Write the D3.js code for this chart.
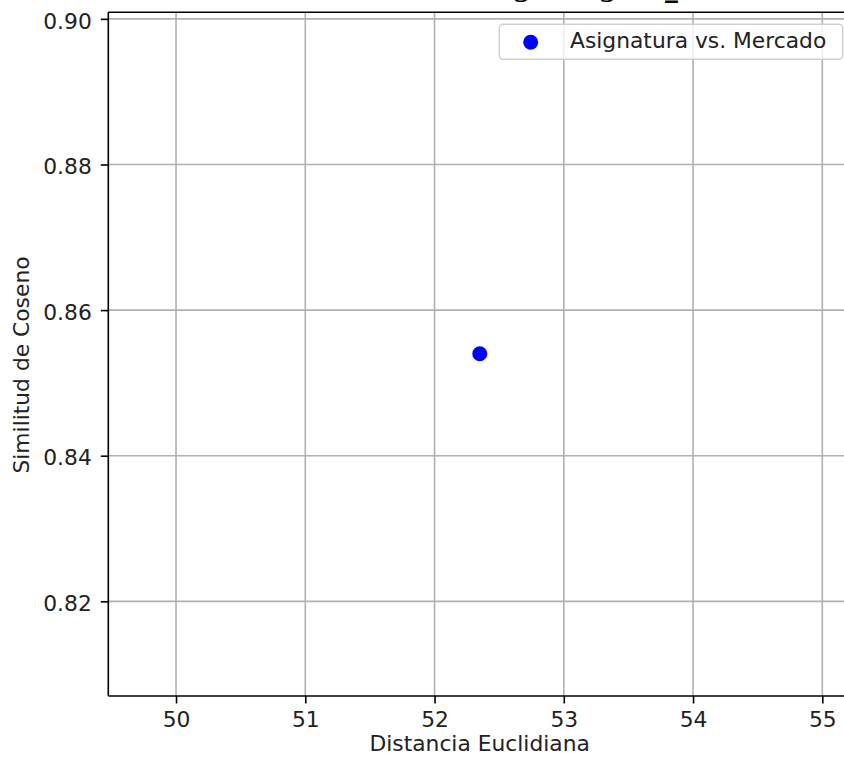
<!DOCTYPE html>
<html>
<head>
<meta charset="utf-8">
<script src="https://cdn.jsdelivr.net/npm/d3@7"></script>
<style>
  html, body { margin: 0; padding: 0; background: #fff; overflow: hidden; }
  svg { display: block; }
</style>
</head>
<body>
<svg id="chart" width="844" height="757"></svg>
<script>
// ---- data ----
const seriesName = "Asignatura vs. Mercado";
const distancia = [52.35];
const similitud = [0.854];
const xTicks = [50, 51, 52, 53, 54, 55];
const yTicks = [0.82, 0.84, 0.86, 0.88, 0.90];
const xDomain = [49.476, 55.222];
const yDomain = [0.8070, 0.9009];
const titleText = "Similitud: Tecnología Digital_Mercado";
const xLabel = "Distancia Euclidiana";
const yLabel = "Similitud de Coseno";

// ---- layout ----
const W = 844, H = 757;
const plot = { left: 108.3, right: 851, top: 12.3, bottom: 696 };
const font = "DejaVu Sans, sans-serif";
const fs = 21.8;

const svg = d3.select("#chart");
const x = d3.scaleLinear().domain(xDomain).range([plot.left, plot.right]);
const y = d3.scaleLinear().domain(yDomain).range([plot.bottom, plot.top]);

svg.append("rect").attr("width", W).attr("height", H).attr("fill", "#fff");

svg.append("clipPath").attr("id", "clip").append("rect")
  .attr("x", plot.left).attr("y", plot.top)
  .attr("width", plot.right - plot.left).attr("height", plot.bottom - plot.top);

// grid
const grid = svg.append("g").attr("clip-path", "url(#clip)");
grid.selectAll("line.gx").data(xTicks).join("line")
  .attr("x1", d => x(d)).attr("x2", d => x(d))
  .attr("y1", plot.top).attr("y2", plot.bottom)
  .attr("stroke", "#b0b0b0").attr("stroke-width", 1.6);
grid.selectAll("line.gy").data(yTicks).join("line")
  .attr("x1", plot.left).attr("x2", plot.right)
  .attr("y1", d => y(d)).attr("y2", d => y(d))
  .attr("stroke", "#b0b0b0").attr("stroke-width", 1.6);

// points
svg.append("g").attr("clip-path", "url(#clip)")
  .selectAll("circle").data(distancia).join("circle")
  .attr("cx", d => x(d)).attr("cy", (d, i) => y(similitud[i]))
  .attr("r", 7.5).attr("fill", "#0000ff");

// axes
const xAxis = svg.append("g").attr("transform", `translate(0,${plot.bottom})`)
  .call(d3.axisBottom(x).tickValues(xTicks).tickFormat(d3.format("d"))
        .tickSizeInner(7.5).tickSizeOuter(0).tickPadding(6));
const yAxis = svg.append("g").attr("transform", `translate(${plot.left},0)`)
  .call(d3.axisLeft(y).tickValues(yTicks).tickFormat(d3.format(".2f"))
        .tickSizeInner(7.5).tickSizeOuter(0).tickPadding(9));
[xAxis, yAxis].forEach(a => {
  a.select(".domain").remove();
  a.selectAll(".tick line").attr("stroke", "#000").attr("stroke-width", 1.6);
  a.selectAll(".tick text").attr("font-family", font).attr("font-size", fs)
    .attr("fill", "#222");
});
xAxis.selectAll(".tick text").attr("dy", "0.78em");
yAxis.selectAll(".tick text").attr("dy", "0.42em");

// spines
const sp = svg.append("g").attr("stroke", "#000").attr("stroke-width", 1.6);
sp.append("line").attr("x1", plot.left).attr("x2", plot.left).attr("y1", plot.top).attr("y2", plot.bottom);
sp.append("line").attr("x1", plot.left).attr("x2", plot.right).attr("y1", plot.bottom).attr("y2", plot.bottom);
sp.append("line").attr("x1", plot.left).attr("x2", plot.right).attr("y1", plot.top).attr("y2", plot.top);
sp.append("line").attr("x1", plot.right).attr("x2", plot.right).attr("y1", plot.top).attr("y2", plot.bottom);

// axis labels
svg.append("text").attr("x", (plot.left + plot.right) / 2).attr("y", 751)
  .attr("text-anchor", "middle").attr("font-family", font).attr("font-size", fs)
  .attr("fill", "#222").text(xLabel);
svg.append("text").attr("transform", "translate(29,365) rotate(-90)")
  .attr("text-anchor", "middle").attr("font-family", font).attr("font-size", fs)
  .attr("fill", "#222").text(yLabel);

// title (mostly above the visible area, as in the reference)
const title = svg.append("text").attr("x", (plot.left + plot.right) / 2).attr("y", -2.6)
  .attr("text-anchor", "start").attr("font-family", "DejaVu Serif, serif")
  .attr("font-weight", "bold").attr("font-size", 25.8).attr("fill", "#000")
  .text(titleText);
{
  const gi = titleText.indexOf("g");
  const gx = title.node().getStartPositionOfChar(gi).x;
  title.attr("x", +title.attr("x") + (513 - gx));
}

// legend
const lg = svg.append("g");
lg.append("rect").attr("x", 499.3).attr("y", 24.3).attr("width", 343.4).attr("height", 35)
  .attr("rx", 4).attr("fill", "#fff").attr("fill-opacity", 0.8)
  .attr("stroke", "#d0d0d0").attr("stroke-width", 1.5);
lg.append("circle").attr("cx", 530.7).attr("cy", 42.3).attr("r", 7.5).attr("fill", "#0000ff");
lg.append("text").attr("x", 570).attr("y", 47.5).attr("font-family", font).attr("font-size", fs)
  .attr("fill", "#222").text(seriesName);
</script>
</body>
</html>
